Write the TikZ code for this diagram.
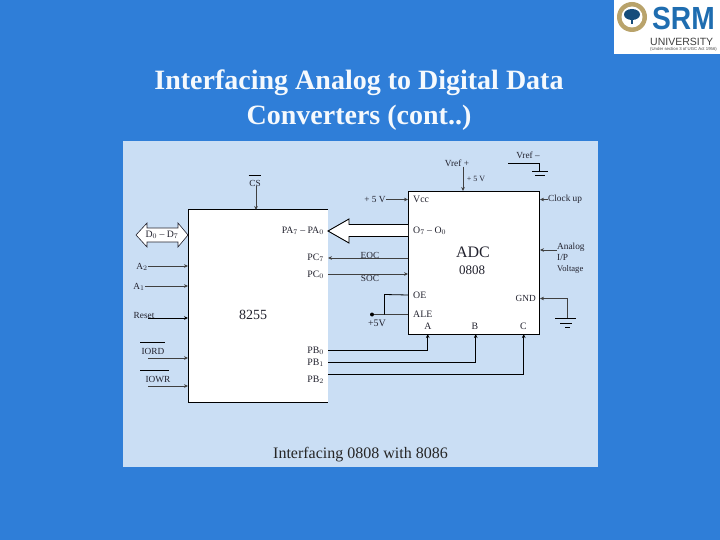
\documentclass[tikz,border=0pt]{standalone}
\usepackage{xcolor}
\usepackage{fontspec}
\setmainfont{Liberation Serif}
\setsansfont{Liberation Sans}
\usepackage{tikz}
\usetikzlibrary{arrows.meta}
\definecolor{slideblue}{HTML}{2F7ED8}
\definecolor{panelblue}{HTML}{CADEF4}
\definecolor{logoblue}{HTML}{1F6DB0}
\definecolor{sealtan}{HTML}{B9A36B}
\definecolor{labelgray}{HTML}{22222E}
\tikzset{
  pin/.style={font=\fontsize{9.3}{10}\selectfont,text=labelgray,inner sep=0pt},
  bigpin/.style={font=\fontsize{9.8}{10}\selectfont,text=labelgray,inner sep=0pt},
  wire/.style={draw=black,line width=0.8pt},
  thinwire/.style={draw=black!75,line width=0.6pt},
  tipwire/.style={thinwire,-{Stealth[length=4pt,width=3.6pt]}},
  chip/.style={draw=black,line width=1pt,fill=white}
}
\begin{document}
\begin{tikzpicture}[x=1pt,y=-1pt]
\useasboundingbox (0,0) rectangle (720,540);
\fill[slideblue](0,0)rectangle(720,540);
\fill[panelblue](123,141)rectangle(598,467);
% logo
\fill[white](614,0)rectangle(720,54);
\fill[sealtan](632,17)circle[radius=15];
\fill[white](632,17)circle[radius=10.5];
\fill[logoblue!70!black](632,14.5)ellipse[x radius=8,y radius=5.5];
\fill[logoblue!70!black](631,18)rectangle(633,24.5);
\node[inner sep=0pt,anchor=west,text=logoblue,font=\sffamily\bfseries\fontsize{32}{32}\selectfont](srm)at(652,18.5){\scalebox{0.88}[1]{SRM}};
\node[inner sep=0pt,anchor=west,text=black!75,font=\sffamily\fontsize{10.5}{11}\selectfont](univ)at(650,41.5){UNIVERSITY};
\node[inner sep=0pt,anchor=west,text=black!70,font=\sffamily\fontsize{4.3}{5}\selectfont](usec)at(650,49.5){(Under section 3 of UGC Act 1956)};
% title
\node[font=\fontsize{28}{34.5}\selectfont\bfseries,align=center,inner sep=0pt,text=white!95!slideblue](title)at(359,100){Interfacing Analog to Digital Data\\Converters (cont..)};
% chips
\fill[white](188,210)rectangle(328,402);
\draw[chip,fill=none](328,210)--(188,210)--(188,402)--(328,402);
\coordinate(c8255top)at(256,210);
\node[chip,minimum width=131pt,minimum height=143pt,anchor=north west,inner sep=0pt](adc)at(408,191){};
\coordinate(adctop)at(463,191);
\coordinate(pinA)at(427.7,334);
\coordinate(pinB)at(475.7,334);
\coordinate(pinC)at(523.7,334);
% data buses
\draw[black,fill=white,line width=0.9pt](408,224.5)--(349,224.5)--(349,219)--(328,231)--(349,243)--(349,236.5)--(408,236.5);
\draw[labelgray,fill=white,line width=0.6pt](136,235)--(147,223)--(147,228)--(178,228)--(178,223)--(188,235)--(178,247)--(178,242)--(147,242)--(147,247)--cycle;
\node[bigpin](dbus)at(162,235){D$_0$ -- D$_7$};
% 8255 text
\node[font=\fontsize{14}{15}\selectfont,inner sep=0pt,text=labelgray](n8255)at(253,315){8255};
\node[bigpin,anchor=east](pa)at(324,231){PA$_7$ -- PA$_0$};
\node[bigpin,anchor=east](pc7)at(324,258){PC$_7$};
\node[bigpin,anchor=east](pc0)at(324,275){PC$_0$};
\node[bigpin,anchor=east](pb0)at(324,351){PB$_0$};
\node[bigpin,anchor=east](pb1)at(324,363){PB$_1$};
\node[bigpin,anchor=east](pb2)at(324,380){PB$_2$};
\coordinate(pc7e)at(328,258);
\coordinate(pc0e)at(328,274);
\coordinate(pb0e)at(328,350);
\coordinate(pb1e)at(328,362);
\coordinate(pb2e)at(328,374);
% left side
\node[pin](cs)at(255,183){CS};
\draw[black](248.5,175.5)--(261,175.5);
\draw[tipwire](c8255top|-cs.south)--(c8255top);
\node[pin](a2)at(142,267){A$_2$};
\node[pin](a1)at(139,287){A$_1$};
\node[pin](rst)at(144,315){Reset};
\node[pin](iord)at(153,351){IORD};
\node[pin](iowr)at(158,379){IOWR};
\draw[black](140,342.5)--(165,342.5)(140,370.5)--(169,370.5);
\coordinate(iordw)at(148,358);
\coordinate(iowrw)at(148,386);
\draw[tipwire](a2.east|-0,266)--(188,266);
\draw[tipwire](a1.east|-0,286)--(188,286);
\draw[tipwire,draw=black,line width=0.8pt](148,318)--(188,318);
\draw[tipwire](iordw)--(iordw-|188,0);
\draw[tipwire](iowrw)--(iowrw-|188,0);
% adc text
\node[font=\fontsize{16}{17}\selectfont,inner sep=0pt,text=labelgray](adcname)at(473,252){ADC};
\node[font=\fontsize{13}{14}\selectfont,inner sep=0pt,text=labelgray](adcnum)at(472,270){0808};
\node[bigpin,anchor=west](vcc)at(413,199.5){Vcc};
\node[bigpin,anchor=west](odata)at(413,231){O$_7$ -- O$_0$};
\node[bigpin,anchor=west](oe)at(413,295){OE};
\node[bigpin,anchor=west](ale)at(413,314.5){ALE};
\node[pin,anchor=east](gnd)at(536,298.5){GND};
\node[bigpin](la)at(428,326.5){A};
\node[bigpin](lb)at(475,326.5){B};
\node[bigpin](lc)at(523.5,326.5){C};
\node[pin](eoc)at(370,255){EOC};
\node[pin](soc)at(370,278.5){SOC};
\draw[tipwire](adc.west|-pc7e)--(pc7e);
\draw[tipwire](pc0e)--(adc.west|-pc0e);
% right and top
\node[pin](vrefp)at(457,163){Vref +};
\node[pin,font=\fontsize{8}{9}\selectfont](plusv)at(476,179){+ 5 V};
\draw[tipwire](vrefp.south-|adctop)--(adctop);
\node[pin](vrefm)at(528,155){Vref --};
\coordinate(vrefcorner)at(539.5,163.5);
\coordinate(vrefgnd)at(539.5,171);
\draw[draw=black,line width=0.7pt](508,163.5)--(vrefcorner)--(vrefgnd);
\draw[black,line width=0.6pt](532,171)--(548,171)(535,175)--(545,175);
\node[pin](plusfive)at(375,199.5){+ 5 V};
\draw[tipwire](plusfive)--(plusfive-|adc.west);
\node[pin,anchor=west](clock)at(548,199.5){Clock up};
\draw[tipwire](clock)--(clock-|adc.east);
\node[pin,anchor=west](ana)at(557,247){Analog};
\node[pin,anchor=west](anb)at(557,257){I/P};
\node[pin,anchor=west,font=\fontsize{8.6}{9}\selectfont](anc)at(557,269){Voltage};
\draw[tipwire](ana.west|-0,250)--(adc.east|-0,250);
% ground
\coordinate(gndturn)at(567.7,298.5);
\coordinate(gndbar)at(567.7,318);
\draw[tipwire](gndbar)--(gndturn)--(gnd-|adc.east);
\draw[black,line width=0.7pt](555,318.5)--(576,318.5)(560,323)--(572,323)(565,327)--(570,327);
% +5V node
\node[circle,fill=black,inner sep=0pt,minimum size=4pt](dot)at(372,314.5){};
\node[pin,font=\fontsize{10}{11}\selectfont](fivev)at(377,323){+5V};
\coordinate(oej)at(384.5,314.5);
\draw[thinwire](dot)--(dot-|adc.west);
\draw[wire](oej)--(384.5,294.5)--(oe.west-|adc.west);
% port B wires
\draw[wire,-{Stealth[length=4pt,width=3.6pt]}](pb0e)-|(pinA);
\draw[wire,-{Stealth[length=4pt,width=3.6pt]}](pb1e)-|(pinB);
\draw[wire,-{Stealth[length=4pt,width=3.6pt]}](pb2e)-|(pinC);
% caption
\node[font=\fontsize{16}{17}\selectfont,inner sep=0pt,text=black!85](cap)at(360.5,454.5){Interfacing 0808 with 8086};
\end{tikzpicture}
\end{document}
